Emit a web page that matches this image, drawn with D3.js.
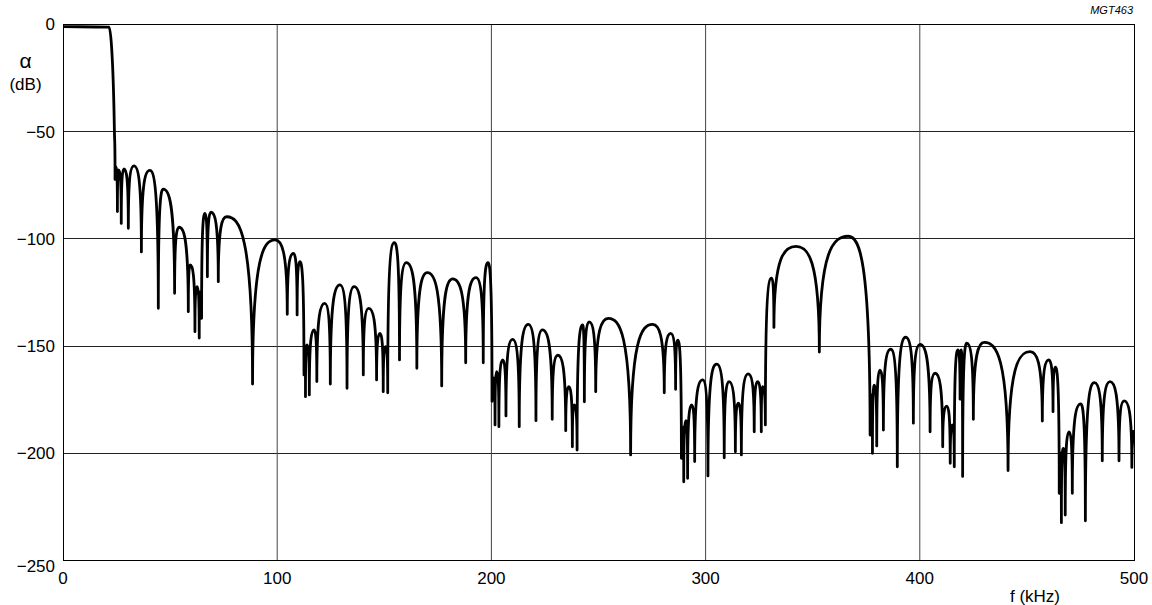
<!DOCTYPE html>
<html>
<head>
<meta charset="utf-8">
<script src="https://cdnjs.cloudflare.com/ajax/libs/d3/7.8.5/d3.min.js"></script>
<style>
    body { margin: 0; background: #fff; }
    svg text { font-family: 'Liberation Sans', Arial, Helvetica, sans-serif; fill: #000; }
</style>
</head>
<body>
<svg id="chart"></svg>
<script>
    'use strict';

    const xTicks = [0, 100, 200, 300, 400, 500];
    const yTicks = [0, -50, -100, -150, -200, -250];
    const yTickLabels = ['0', '\u221250', '\u2212100', '\u2212150', '\u2212200', '\u2212250'];

    // turning points of the response
    const freqKHz = [
        0, 21.5, 22.7, 24.0, 24.3,
        24.7, 25.4, 26.0, 27.2, 28.5, 30.5, 33.1, 36.6, 40.5, 44.5,
        46.8, 52.1, 54.2, 58.5, 59.4, 61.6, 62.6, 63.6, 64.1, 64.7,
        66.3, 67.4, 69.1, 72.5, 76.4, 88.5, 99.0, 104.7, 107.6, 109.3,
        110.6, 112.5, 113.0, 113.2, 113.9, 115.0, 117.2, 118.5, 122.2, 124.8,
        129.3, 132.6, 135.9, 140.2, 142.7, 146.4, 148.0, 149.5, 150.6, 151.6,
        154.7, 157.1, 160.3, 165.2, 170.1, 176.8, 181.9, 188.0, 192.8, 196.2,
        198.4, 200.3, 200.8, 201.7, 202.5, 203.5, 205.3, 206.8, 209.9, 213.0,
        217.2, 220.8, 223.8, 228.4, 231.0, 234.7, 236.2, 237.8, 238.7, 240.0,
        242.6, 243.4, 245.6, 248.7, 254.6, 265.0, 275.3, 280.7, 283.7, 286.0,
        287.0, 288.7, 289.2, 289.8, 290.8, 291.6, 293.5, 294.9, 298.6, 301.1,
        305.2, 308.7, 310.9, 313.9, 315.3, 316.7, 319.9, 322.7, 324.3, 326.0,
        326.6, 327.9, 330.8, 331.9, 342.2, 353.1, 366.6, 376.8, 377.4, 377.9,
        378.8, 379.9, 381.4, 383.0, 386.4, 389.5, 393.4, 397.0, 400.1, 404.8,
        407.1, 410.7, 412.6, 414.2, 415.2, 416.1, 417.8, 418.8, 419.3, 420.0,
        421.9, 425.0, 430.1, 441.2, 451.5, 457.2, 460.2, 462.2, 463.3, 465.1,
        465.6, 466.1, 467.0, 467.9, 469.7, 471.2, 475.1, 477.3, 481.5, 485.2,
        488.8, 493.0, 495.4, 499.0, 500.0
    ];
    const attenDB = [
        -1.2, -1.5, -11, -50, -72.5,
        -66.5, -87.5, -68, -93, -67.6, -95.3, -66.2, -106.3, -68.3, -132.6,
        -77, -125.6, -94.8, -134.2, -112.4, -143.5, -122.5, -146.5, -125, -137.3,
        -88.3, -117.9, -87.8, -120.2, -89.9, -167.9, -100.7, -135.4, -107, -135.7,
        -110.9, -163.7, -150, -173.8, -149.7, -173, -142.7, -166.8, -130.3, -167.9,
        -121.7, -169.9, -122.5, -163.7, -132.6, -166, -144.3, -171.5, -150.5, -172,
        -102, -156.7, -111.3, -160.6, -116, -168.8, -118.9, -158, -118.3, -158,
        -111.3, -176, -165, -187, -162.2, -187.8, -156.7, -182.8, -147.1, -187.8,
        -140.1, -185, -142.7, -184.4, -154.5, -189.7, -169.2, -197.2, -177.7, -198.7,
        -140.4, -176.2, -138.9, -171.5, -137.3, -201, -140.1, -172, -144.3, -170.4,
        -147.4, -202.6, -188, -213.5, -185, -211.9, -177.7, -204.1, -166, -210.8,
        -158.6, -202.3, -166.8, -199.5, -176.9, -201, -163.2, -190.2, -166.8, -190.2,
        -169.2, -187, -118.5, -141.5, -103.7, -153, -99, -191.7, -173, -200.2,
        -168.4, -196.8, -161.4, -189.4, -151.7, -206.5, -146.1, -186.2, -149.4, -190.2,
        -162.9, -197.2, -178.2, -204.9, -187, -206.5, -152, -175, -152, -211,
        -148.9, -184.4, -148.5, -208.3, -152.8, -185.2, -156.7, -180.8, -160.1, -218.9,
        -200, -232.6, -197.9, -229, -190.2, -218.9, -177.2, -231.7, -167.3, -203.7,
        -166.8, -203.7, -175.8, -206.8, -189.4
    ];

    const margin = {
        'top': 24,
        'bottom': 45,
        'left': 63,
        'right': 18
    };
    const width = 1152 - margin.left - margin.right;
    const height = 605 - margin.top - margin.bottom;

    let x = d3.scaleLinear()
        .domain([0, 500])
        .range([0, width]);

    let y = d3.scaleLinear()
        .domain([-250, 0])
        .range([height, 0]);

    let svg = d3.select('#chart')
        .attr('width', 1152)
        .attr('height', 605);

    let chart = svg.append('g')
        .attr('transform', `translate(${margin.left}, ${margin.top})`);

    chart.append('clipPath')
        .attr('id', 'plot-clip')
        .append('rect')
            .attr('width', width)
            .attr('height', height);

    // grid
    chart.selectAll('.grid-y')
        .data(yTicks.slice(1, -1))
        .enter().append('line')
            .attr('class', 'grid-y')
            .attr('x1', 0)
            .attr('x2', width)
            .attr('y1', (d) => {
                return Math.round(y(d)) + 0.5;
            })
            .attr('y2', (d) => {
                return Math.round(y(d)) + 0.5;
            })
            .attr('stroke', '#222')
            .attr('stroke-width', 1);

    chart.selectAll('.grid-x')
        .data(xTicks.slice(1, -1))
        .enter().append('line')
            .attr('class', 'grid-x')
            .attr('x1', (d) => {
                return x(d);
            })
            .attr('x2', (d) => {
                return x(d);
            })
            .attr('y1', 0)
            .attr('y2', height)
            .attr('stroke', '#444')
            .attr('stroke-width', 1);

    chart.append('rect')
        .attr('x', 0.5)
        .attr('y', 0.5)
        .attr('width', width)
        .attr('height', height)
        .attr('fill', 'none')
        .attr('stroke', '#000')
        .attr('stroke-width', 1);

    // response curve: flat tangent at peaks, vertical at nulls
    const peakHandle = 0.5;
    const nullHandle = 0.9;

    const pts = freqKHz.map((f, i) => {
        return [x(f), y(attenDB[i])];
    });
    const last = pts.length - 1;

    const kind = pts.map((p, i) => {
        if (i === 0 || i === last) return 'slope';
        if (p[1] < pts[i - 1][1] && p[1] < pts[i + 1][1]) return 'peak';
        if (p[1] > pts[i - 1][1] && p[1] > pts[i + 1][1]) return 'null';
        return 'slope';
    });

    const slope = pts.map((p, i) => {
        if (i === 0) return (pts[1][1] - p[1]) / (pts[1][0] - p[0]);
        if (i === last) return (p[1] - pts[i - 1][1]) / (p[0] - pts[i - 1][0]);
        const h0 = p[0] - pts[i - 1][0];
        const h1 = pts[i + 1][0] - p[0];
        const s0 = (p[1] - pts[i - 1][1]) / h0;
        const s1 = (pts[i + 1][1] - p[1]) / h1;
        const q = (s0 * h1 + s1 * h0) / (h0 + h1);
        return (Math.sign(s0) + Math.sign(s1)) * Math.min(Math.abs(s0), Math.abs(s1), 0.5 * Math.abs(q)) || 0;
    });

    const curve = d3.path();
    curve.moveTo(pts[0][0], pts[0][1]);
    for (let i = 1; i <= last; i++) {
        const [x0, y0] = pts[i - 1];
        const [x1, y1] = pts[i];
        const dx = x1 - x0;
        const dy = y1 - y0;
        let c0, c1;
        if (kind[i - 1] === 'peak') c0 = [x0 + peakHandle * dx, y0];
        else if (kind[i - 1] === 'null') c0 = [x0, y0 + nullHandle * dy];
        else c0 = [x0 + dx / 3, y0 + slope[i - 1] * dx / 3];
        if (kind[i] === 'peak') c1 = [x1 - peakHandle * dx, y1];
        else if (kind[i] === 'null') c1 = [x1, y1 - nullHandle * dy];
        else c1 = [x1 - dx / 3, y1 - slope[i] * dx / 3];
        curve.bezierCurveTo(c0[0], c0[1], c1[0], c1[1], x1, y1);
    }

    chart.append('path')
        .attr('d', curve.toString())
        .attr('clip-path', 'url(#plot-clip)')
        .attr('fill', 'none')
        .attr('stroke', '#000')
        .attr('stroke-width', 2.8)
        .attr('stroke-linejoin', 'round');

    // tick labels
    chart.selectAll('.ylabel')
        .data(yTicks)
        .enter().append('text')
            .attr('class', 'ylabel')
            .attr('x', -8)
            .attr('y', (d) => {
                return y(d);
            })
            .attr('dy', (d) => {
                return d === -250 ? '0.7em' : '0.38em';
            })
            .attr('text-anchor', 'end')
            .attr('font-size', 17)
            .text((d, i) => {
                return yTickLabels[i];
            });

    chart.selectAll('.xlabel')
        .data(xTicks)
        .enter().append('text')
            .attr('class', 'xlabel')
            .attr('x', (d) => {
                return x(d);
            })
            .attr('y', height + 24)
            .attr('text-anchor', 'middle')
            .attr('font-size', 17)
            .text((d) => {
                return d;
            });

    // axis titles
    svg.append('text')
        .attr('x', 25.5)
        .attr('y', 68)
        .attr('text-anchor', 'middle')
        .attr('font-size', 21)
        .text('\u03b1');

    svg.append('text')
        .attr('x', 25.5)
        .attr('y', 90)
        .attr('text-anchor', 'middle')
        .attr('font-size', 17)
        .text('(dB)');

    svg.append('text')
        .attr('x', 1035)
        .attr('y', 602)
        .attr('text-anchor', 'middle')
        .attr('font-size', 17)
        .text('f (kHz)');

    svg.append('text')
        .attr('x', 1133)
        .attr('y', 14)
        .attr('text-anchor', 'end')
        .attr('font-size', 11)
        .attr('font-style', 'italic')
        .text('MGT463');
</script>
</body>
</html>
